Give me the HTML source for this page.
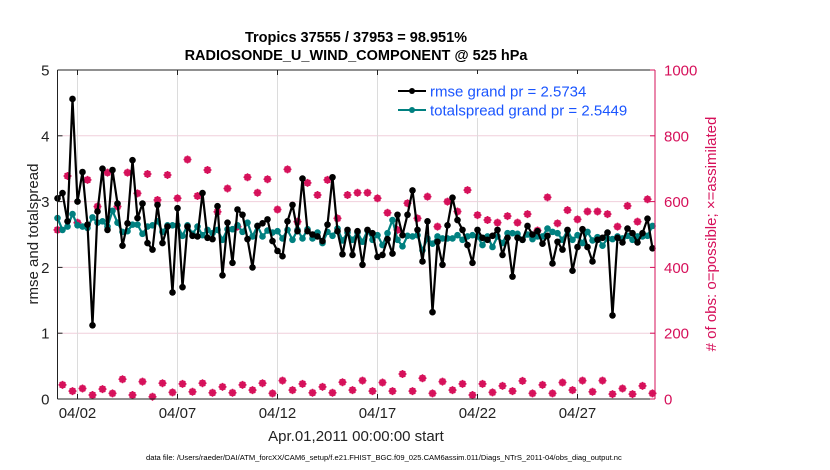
<!DOCTYPE html>
<html><head><meta charset="utf-8"><style>
body{margin:0;background:#fff;}
svg{display:block;font-family:"Liberation Sans",Arial,sans-serif;}
</style></head><body>
<svg id="chart" width="830" height="470" viewBox="0 0 830 470">
<text x="356" y="42" text-anchor="middle" font-size="14.5" font-weight="bold" fill="#000">Tropics 37555 / 37953 = 98.951%</text>
<text x="356" y="60" text-anchor="middle" font-size="14.5" font-weight="bold" fill="#000">RADIOSONDE_U_WIND_COMPONENT @ 525 hPa</text>
<g id="grid"></g>
<g id="marks"></g>
<g id="axes"></g>
<g>
<rect x="392" y="74" width="262" height="44" fill="#fff"/>
<g>
<line x1="398" y1="91" x2="426" y2="91" stroke="#000" stroke-width="2"/><circle cx="412" cy="91" r="3" fill="#000"/>
<text x="430" y="96.5" font-size="15" fill="#1a55ff">rmse grand pr = 2.5734</text></g>
<g>
<line x1="398" y1="110" x2="426" y2="110" stroke="#008080" stroke-width="2"/><circle cx="412" cy="110" r="3" fill="#008080"/>
<text x="430" y="115.5" font-size="15" fill="#1a55ff">totalspread grand pr = 2.5449</text></g>
</g>
<text transform="translate(38,234) rotate(-90)" text-anchor="middle" font-size="15" fill="#222">rmse and totalspread</text>
<text transform="translate(716,234) rotate(-90)" text-anchor="middle" font-size="15" fill="#d6105a"># of obs: o=possible; ×=assimilated</text>
<text x="356" y="441" text-anchor="middle" font-size="15" fill="#222">Apr.01,2011 00:00:00 start</text>
<text x="146" y="460" font-size="7.6" fill="#000">data file: /Users/raeder/DAI/ATM_forcXX/CAM6_setup/f.e21.FHIST_BGC.f09_025.CAM6assim.011/Diags_NTrS_2011-04/obs_diag_output.nc</text>
</svg>
<script>
const rmse=[3.05,3.13,2.7,4.56,3.0,3.45,2.65,1.12,2.85,3.5,2.57,3.48,2.97,2.33,2.67,3.63,2.75,2.97,2.37,2.27,2.95,2.37,2.62,1.62,2.9,1.7,2.62,2.48,2.47,3.13,
2.45,2.43,2.93,1.88,2.68,2.07,2.88,2.8,2.43,2.0,2.63,2.67,2.73,2.4,2.25,2.17,2.7,2.95,2.55,3.35,2.55,2.5,2.47,2.4,2.65,3.37,2.55,2.2,2.57,2.19,
2.55,2.04,2.57,2.52,2.16,2.19,2.43,2.21,2.8,2.49,2.8,3.17,2.57,2.09,2.7,1.32,2.39,2.04,2.64,3.06,2.72,2.57,2.34,2.07,2.57,2.45,2.42,2.48,2.57,2.19,
2.45,1.86,2.45,2.42,2.63,2.5,2.55,2.36,2.48,2.06,2.39,2.27,2.57,1.95,2.31,2.58,2.31,2.09,2.42,2.45,2.53,1.27,2.45,2.38,2.59,2.52,2.38,2.52,2.74,2.29];
const spread=[2.75,2.57,2.62,2.81,2.64,2.62,2.6,2.76,2.68,2.7,2.62,2.86,2.68,2.54,2.55,2.65,2.65,2.51,2.62,2.64,2.7,2.54,2.64,2.64,2.64,2.48,2.64,2.51,2.62,2.49,
2.57,2.52,2.57,2.42,2.58,2.58,2.64,2.54,2.68,2.47,2.63,2.47,2.56,2.53,2.55,2.44,2.57,2.42,2.57,2.44,2.58,2.44,2.53,2.37,2.54,2.48,2.59,2.41,2.53,2.42,
2.53,2.39,2.56,2.42,2.49,2.34,2.52,2.72,2.42,2.32,2.48,2.47,2.49,2.26,2.44,2.36,2.47,2.44,2.44,2.44,2.49,2.42,2.47,2.49,2.47,2.34,2.47,2.31,2.47,2.37,
2.52,2.52,2.51,2.42,2.5,2.43,2.47,2.47,2.59,2.54,2.52,2.42,2.56,2.42,2.49,2.37,2.54,2.41,2.46,2.33,2.44,2.43,2.47,2.44,2.48,2.42,2.47,2.47,2.48,2.63];
const obsCount=[514,43,678,24,536,32,666,12,585,30,688,17,585,60,688,12,625,53,684,7,605,48,681,20,610,46,728,22,617,48,
696,19,569,37,640,19,524,43,674,27,627,48,668,17,576,56,698,27,539,46,657,19,620,37,666,19,549,51,620,27,
627,56,627,24,610,50,566,24,514,76,595,24,549,63,615,17,524,53,600,27,570,46,635,12,559,46,544,20,536,40,
556,24,536,55,562,17,512,43,613,17,534,50,574,27,546,56,570,22,570,56,562,15,524,32,587,15,539,40,607,17];
const xTickDays=[1,6,11,16,21,26];
const xTickLabels=["04/02","04/07","04/12","04/17","04/22","04/27"];
const leftTicks=[0,1,2,3,4,5];
const rightTicks=[0,200,400,600,800,1000];

const NS="http://www.w3.org/2000/svg";
const X0=57.5,X1=655,Y0=399,Y1=70,DMAX=29.875;
const xs=d=>X0+(d/DMAX)*(X1-X0);
const yl=v=>Y0-(v/5)*(Y0-Y1);
const yr=v=>Y0-(v/1000)*(Y0-Y1);
const tOf=i=>i*0.25;
function mk(tag,attrs,parent){const e=document.createElementNS(NS,tag);for(const k in attrs)e.setAttribute(k,attrs[k]);parent.appendChild(e);return e;}
const grid=document.getElementById('grid'),marks=document.getElementById('marks'),axes=document.getElementById('axes');
mk('rect',{x:X0,y:Y1,width:X1-X0,height:Y0-Y1,fill:'#fff'},grid);
leftTicks.forEach(v=>{if(v>0&&v<5){const l=mk('line',{x1:X0,x2:X1,y1:yl(v),y2:yl(v),stroke:'#f0cfdc','stroke-width':1},grid);

}});
xTickDays.forEach(d=>{const l=mk('line',{x1:xs(d),x2:xs(d),y1:Y1,y2:Y0,stroke:'#dcdcdc','stroke-width':1},grid);

});
obsCount.forEach((c,i)=>{const g=mk('g',{},marks);


const x=xs(tOf(i)),y=yr(c),col='#d6105a';
mk('circle',{cx:x,cy:y,r:2.8,fill:'none',stroke:col,'stroke-width':1.4},g);
mk('path',{d:`M${x-4},${y}H${x+4}M${x},${y-4}V${y+4}M${x-2.8},${y-2.8}L${x+2.8},${y+2.8}M${x-2.8},${y+2.8}L${x+2.8},${y-2.8}`,stroke:col,'stroke-width':1.5},g);});
function series(arr,col,name){
const p=mk('polyline',{points:arr.map((v,i)=>xs(tOf(i))+','+yl(v)).join(' '),fill:'none',stroke:col,'stroke-width':2.2,'stroke-linejoin':'round'},marks);


arr.forEach((v,i)=>{const c=mk('circle',{cx:xs(tOf(i)),cy:yl(v),r:3.3,fill:col},marks);

});}
series(spread,'#008080','totalspread');
series(rmse,'#000','rmse');
mk('line',{x1:X0,x2:X1,y1:Y1,y2:Y1,stroke:'#222','stroke-width':1},axes);
mk('line',{x1:X0,x2:X1,y1:Y0,y2:Y0,stroke:'#222','stroke-width':1},axes);
mk('line',{x1:X0,x2:X0,y1:Y1,y2:Y0,stroke:'#222','stroke-width':1},axes);
mk('line',{x1:X1,x2:X1,y1:Y1,y2:Y0,stroke:'#d6105a','stroke-width':1},axes);
leftTicks.forEach(v=>{mk('line',{x1:X0,x2:X0+5,y1:yl(v),y2:yl(v),stroke:'#222'},axes);
const t=mk('text',{x:X0-8,y:yl(v)+5.5,'text-anchor':'end','font-size':15,fill:'#222'},axes);t.textContent=v;

});
rightTicks.forEach(v=>{mk('line',{x1:X1-5,x2:X1,y1:yr(v),y2:yr(v),stroke:'#d6105a'},axes);
const t=mk('text',{x:X1+9,y:yr(v)+5.5,'font-size':15,fill:'#d6105a'},axes);t.textContent=v;

});
xTickDays.forEach((d,k)=>{mk('line',{x1:xs(d),x2:xs(d),y1:Y0,y2:Y0-5,stroke:'#222'},axes);
mk('line',{x1:xs(d),x2:xs(d),y1:Y1,y2:Y1+5,stroke:'#222'},axes);
const t=mk('text',{x:xs(d),y:Y0+19,'text-anchor':'middle','font-size':15,fill:'#222'},axes);t.textContent=xTickLabels[k];

});
</script>
</body></html>
